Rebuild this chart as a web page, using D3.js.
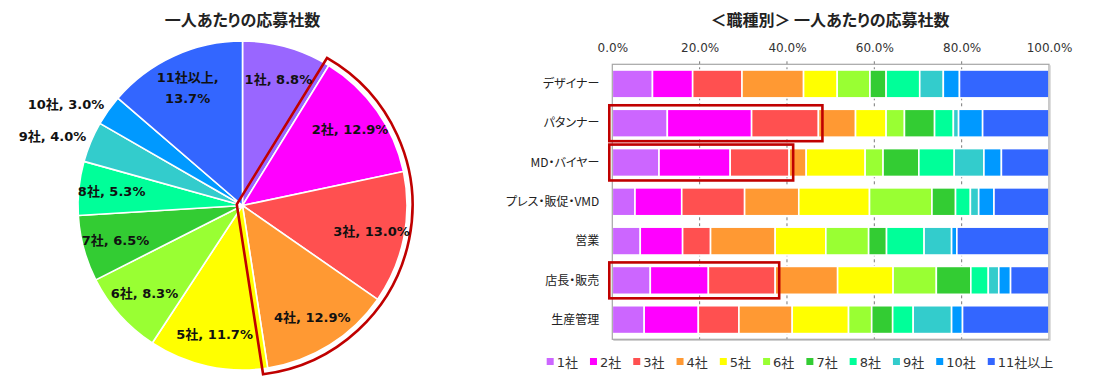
<!DOCTYPE html>
<html><head><meta charset="utf-8">
<script src="https://cdn.jsdelivr.net/npm/d3@7"></script>
<style>
html,body{margin:0;padding:0;background:#fff;}
svg{display:block;}
.jp{font-family:"Noto Sans CJK JP",sans-serif;font-feature-settings:"palt";}
</style></head>
<body><svg id="c" width="1098" height="379"></svg>
<script>
// ---------- data ----------
const pieTitle = "一人あたりの応募社数";
const barTitle = "＜職種別＞ 一人あたりの応募社数";
const categories = ["1社","2社","3社","4社","5社","6社","7社","8社","9社","10社","11社以上"];
const pieValues = [8.8,12.9,13.0,12.9,11.7,8.3,6.5,5.3,4.0,3.0,13.7];
const pieColors = ["#9966FF","#FF00FF","#FF5050","#FF9933","#FFFF00","#99FF33","#33CC33","#00FF99","#33CCCC","#0099FF","#3366FF"];
const barColors = ["#CC66FF","#FF00FF","#FF5050","#FF9933","#FFFF00","#99FF33","#33CC33","#00FF99","#33CCCC","#0099FF","#3366FF"];
const pieHighlight = ["2社","3社","4社"];

const jobs = ["デザイナー","パタンナー","MD・バイヤー","プレス・販促・VMD","営業","店長・販売","生産管理"];
const designer   = [9.2,9.2,11.3,14.1,7.7,7.5,3.7,7.7,5.4,3.7,20.5];
const patterner  = [12.6,19.3,15.3,8.5,7.0,4.2,6.9,4.3,1.2,5.5,15.2];
const mdBuyer    = [10.7,16.3,13.5,3.9,13.5,4.1,8.2,8.1,6.8,4.0,10.9];
const press      = [5.2,10.7,14.4,12.4,16.2,14.3,5.4,3.4,1.9,3.5,12.6];
const sales      = [6.4,9.7,6.4,14.8,11.6,9.8,4.1,8.6,6.3,1.2,21.1];
const shop       = [8.7,13.3,15.3,14.3,12.7,9.9,7.9,4.0,2.4,2.7,8.8];
const production = [7.3,12.4,9.3,12.2,12.9,5.3,4.8,4.7,8.8,2.5,19.8];
const jobValues = [designer,patterner,mdBuyer,press,sales,shop,production];
const xTicks = [0,20,40,60,80,100];
const barHighlightJobs = ["パタンナー","MD・バイヤー","店長・販売"];
const barHighlightCount = 3;

// ---------- setup ----------
const svg = d3.select("#c");
const LATIN = '"DejaVu Sans","Noto Sans CJK JP",sans-serif';
const RED = "#C00000";

// ---------- pie ----------
const cx = 242.5, cy = 205.5, R = 164.5;
svg.append("text").attr("x", cx).attr("y", 26).attr("text-anchor","middle")
  .attr("class","jp").attr("font-size",16).attr("font-weight","bold").attr("fill","#222")
  .text(pieTitle);

const pieData = categories.map((c,i)=>({cat:c, value:pieValues[i], color:pieColors[i]}));
const arcs = d3.pie().sort(null).value(d=>d.value)(pieData);
const arcGen = d3.arc().innerRadius(0).outerRadius(R);
const gp = svg.append("g").attr("transform",`translate(${cx},${cy})`);
gp.selectAll("path.slice").data(arcs).join("path").attr("class","slice")
  .attr("d", arcGen).attr("fill", d=>d.data.color)
  .attr("stroke","#fff").attr("stroke-width",1.6).attr("stroke-linejoin","round");

// highlight outline around grouped slices
{
  const hl = arcs.filter(a=>pieHighlight.includes(a.data.cat));
  const a0 = d3.min(hl,a=>a.startAngle), a1 = d3.max(hl,a=>a.endAngle);
  const d = 5.5, RR = R + d;
  const u = a=>[Math.sin(a), -Math.cos(a)];
  const n = a=>[Math.cos(a), Math.sin(a)];
  const h = (a1-a0)/2, mid = (a0+a1)/2;
  const k = -d/Math.sin(h);
  const V = [k*u(mid)[0], k*u(mid)[1]];
  const t = Math.sqrt(RR*RR - d*d);
  const P0 = [t*u(a0)[0] - d*n(a0)[0], t*u(a0)[1] - d*n(a0)[1]];
  const p = d3.path();
  p.moveTo(V[0],V[1]); p.lineTo(P0[0],P0[1]);
  p.arc(0,0,RR, a0 - Math.asin(d/RR) - Math.PI/2, a1 + Math.asin(d/RR) - Math.PI/2, false);
  p.closePath();
  gp.append("path").attr("d", p.toString()).attr("fill","none")
    .attr("stroke",RED).attr("stroke-width",2.6).attr("stroke-linejoin","miter");
}

// labels
const labelG = gp.append("g").attr("font-family",LATIN).attr("font-size",13)
  .attr("font-weight","bold").attr("fill","#111");
arcs.forEach(a=>{
  const pct = a.data.value.toFixed(1)+"%";
  const outside = a.data.value < 4.5;
  const big = a.data.cat.length > 3;
  const rf = outside ? 1.03 : 0.8;
  const m = (a.startAngle+a.endAngle)/2;
  const x = Math.sin(m)*R*rf, y = -Math.cos(m)*R*rf;
  const t = labelG.append("text").attr("x",x).attr("y",y)
    .attr("text-anchor", outside ? "end" : "middle");
  if (big) {
    t.append("tspan").attr("x",x).attr("dy","-0.3em").text(a.data.cat+",");
    t.append("tspan").attr("x",x).attr("dy","1.6em").text(pct);
  } else {
    t.attr("dy", outside ? "0.1em" : "0.36em").text(a.data.cat+", "+pct);
  }
});

// ---------- stacked bar ----------
const L = 612.3, Rr = 1049, T = 64.3, B = 339.3;
svg.append("text").attr("x", 830).attr("y", 26).attr("text-anchor","middle")
  .attr("class","jp").attr("font-size",16).attr("font-weight","bold").attr("fill","#222")
  .text(barTitle);

const x = d3.scaleLinear().domain([0,100]).range([L,Rr]);
const y = d3.scaleBand().domain(jobs).range([T,B]).paddingInner(0.29).paddingOuter(0.145);

// grid
svg.append("g").selectAll("line").data(xTicks.filter(v=>v>0&&v<100)).join("line")
  .attr("x1",d=>x(d)).attr("x2",d=>x(d)).attr("y1",T-3).attr("y2",B)
  .attr("stroke","#777").attr("stroke-width",1).attr("stroke-dasharray","3,3");

// axis labels top
const xAxis = d3.axisTop(x).tickValues(xTicks).tickFormat(d=>d.toFixed(1)+"%").tickSize(0).tickPadding(12);
const ga = svg.append("g").attr("transform",`translate(0,${T})`).call(xAxis);
ga.select(".domain").remove();
ga.selectAll("text").attr("font-family",LATIN).attr("font-size",12).attr("fill","#333");

// bars
const rows = jobs.map((j,i)=>{
  let acc = 0;
  return {job:j, segs: jobValues[i].map((v,k)=>{ const s={k, x0:acc, x1:acc+v}; acc+=v; return s; })};
});
const gb = svg.append("g");
rows.forEach(r=>{
  gb.selectAll(null).data(r.segs).join("rect")
    .attr("x",d=>x(d.x0)).attr("width",d=>x(d.x1)-x(d.x0))
    .attr("y",y(r.job)).attr("height",y.bandwidth())
    .attr("fill",d=>barColors[d.k]).attr("stroke","#fff").attr("stroke-width",1.6);
});

// frame
svg.append("rect").attr("x",L).attr("y",T).attr("width",Rr-L).attr("height",B-T)
  .attr("fill","none").attr("stroke","#A6A6A6").attr("stroke-width",1.2);
svg.append("path").attr("d",`M${L+1},${B+1.2}H${Rr+1.2}V${T+1}`)
  .attr("fill","none").attr("stroke","#D0D0D0").attr("stroke-width",1);

// category labels
svg.append("g").selectAll("text").data(jobs).join("text")
  .attr("class","jp").attr("x",L-13).attr("y",d=>y(d)+y.bandwidth()/2).attr("dy","0.35em")
  .attr("text-anchor","end").attr("font-size",12).attr("fill","#222").text(d=>d);

// red highlight boxes
const pad = 4;
rows.filter(r=>barHighlightJobs.includes(r.job)).forEach(r=>{
  const end = r.segs[barHighlightCount-1].x1;
  svg.append("rect").attr("x",x(0)-pad+1).attr("y",y(r.job)-pad)
    .attr("width",x(end)-x(0)+2*pad-1).attr("height",y.bandwidth()+2*pad)
    .attr("fill","none").attr("stroke",RED).attr("stroke-width",2.6);
});

// legend
const lg = svg.append("g");
let lx = 0;
const gap = 12;
categories.forEach((c,i)=>{
  const it = lg.append("g").attr("transform",`translate(${lx},0)`);
  it.append("rect").attr("x",0).attr("y",-4).attr("width",7).attr("height",7).attr("fill",barColors[i]);
  const t = it.append("text").attr("x",10).attr("y",0).attr("dy","0.36em")
    .attr("font-family",LATIN).attr("font-size",13).attr("fill","#333").text(c);
  lx += 10 + t.node().getComputedTextLength() + gap;
});
const lw = lx - gap;
lg.attr("transform",`translate(${800 - lw/2},362)`);
</script></body></html>
